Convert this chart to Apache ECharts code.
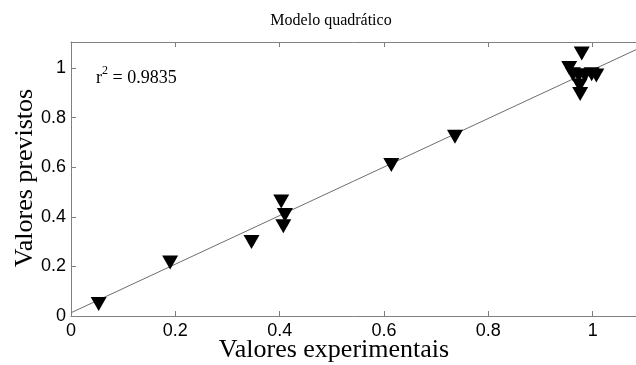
<!DOCTYPE html>
<html>
<head>
<meta charset="utf-8">
<script src="https://cdn.jsdelivr.net/npm/echarts@6/dist/echarts.min.js"></script>
<style>html,body{margin:0;padding:0;background:#fff}#c{width:636px;height:365px}</style>
</head>
<body>
<div id="c"></div>
<script>
// Experimental vs predicted values
var expX = [0.053, 0.19, 0.346, 0.403, 0.41, 0.407, 0.614, 0.736, 0.979, 0.955, 0.962, 0.973, 0.985, 0.998, 1.007, 0.975, 0.976];
var predY = [0.048, 0.216, 0.298, 0.462, 0.407, 0.362, 0.609, 0.723, 1.059, 1.0, 0.975, 0.97, 0.97, 0.975, 0.97, 0.93, 0.895];
// Fitted reference line endpoints
var fitX = [0, 1.083];
var fitY = [0.013, 1.074];
var xTicks = [0, 0.2, 0.4, 0.6, 0.8, 1];
var yTicks = [0, 0.2, 0.4, 0.6, 0.8, 1];
var titleText = 'Modelo quadrático';
var r2Value = '0.9835';
var xName = 'Valores experimentais';
var yName = 'Valores previstos';

var scatterData = expX.map(function (x, i) { return [x, predY[i]]; });
var lineData = fitX.map(function (x, i) { return [x, fitY[i]]; });

function tickFmt(list) {
  return function (v) {
    for (var i = 0; i < list.length; i++) if (Math.abs(list[i] - v) < 1e-6) return String(list[i]);
    return '';
  };
}

var axisColor = '#808080';
var chart = echarts.init(document.getElementById('c'), null, {renderer: 'canvas'});
chart.setOption({
  animation: false,
  backgroundColor: '#fff',
  grid: {left: 71, right: 0, top: 42, bottom: 49, containLabel: false},
  xAxis: [{
    type: 'value', min: 0, max: 1.083, interval: 0.2, position: 'bottom',
    axisLine: {show: true, lineStyle: {color: axisColor, width: 1}},
    axisTick: {show: true, inside: true, length: 5, lineStyle: {color: axisColor}},
    axisLabel: {color: '#000', fontFamily: 'Liberation Sans', fontSize: 18, margin: 6, formatter: tickFmt(xTicks), showMaxLabel: false},
    splitLine: {show: false}
  }, {
    type: 'value', min: 0, max: 1.083, interval: 0.2, position: 'top',
    axisLine: {show: true, lineStyle: {color: axisColor, width: 1}},
    axisTick: {show: true, inside: true, length: 5, lineStyle: {color: axisColor}},
    axisLabel: {show: false},
    splitLine: {show: false}
  }],
  yAxis: [{
    type: 'value', min: 0, max: 1.105, interval: 0.2,
    axisLine: {show: true, lineStyle: {color: axisColor, width: 1}},
    axisTick: {show: true, inside: true, length: 5, lineStyle: {color: axisColor}},
    axisLabel: {color: '#000', fontFamily: 'Liberation Sans', fontSize: 18, margin: 5, formatter: tickFmt(yTicks), showMaxLabel: false},
    splitLine: {show: false}
  }],
  series: [{
    type: 'line', data: lineData, xAxisIndex: 0, yAxisIndex: 0,
    symbol: 'none', lineStyle: {color: '#6e6e6e', width: 1}, z: 2, silent: true
  }, {
    type: 'scatter', data: scatterData, xAxisIndex: 0, yAxisIndex: 0,
    symbol: 'triangle', symbolRotate: 180, symbolSize: [16, 14],
    itemStyle: {color: '#000', opacity: 1}, z: 3
  }],
  graphic: [{
    type: 'text', x: 331, y: 21,
    style: {text: titleText, fontFamily: 'Liberation Serif', fontSize: 16, fill: '#000', textAlign: 'center', textVerticalAlign: 'middle'}
  }, {
    type: 'text', x: 96, y: 76,
    style: {
      text: '{a|r}{s|2}{a| = ' + r2Value + '}',
      rich: {
        a: {fontFamily: 'Liberation Serif', fontSize: 18, fill: '#000', verticalAlign: 'bottom', lineHeight: 22},
        s: {fontFamily: 'Liberation Serif', fontSize: 12, fill: '#000', verticalAlign: 'top', lineHeight: 22, padding: [0,0,9,0]}
      },
      textVerticalAlign: 'middle'
    }
  }, {
    type: 'text', x: 334, y: 350,
    style: {text: xName, fontFamily: 'Liberation Serif', fontSize: 26, fill: '#000', textAlign: 'center', textVerticalAlign: 'middle'}
  }, {
    type: 'text', x: 25, y: 178, rotation: Math.PI / 2,
    style: {text: yName, fontFamily: 'Liberation Serif', fontSize: 26, fill: '#000', textAlign: 'center', textVerticalAlign: 'middle'}
  }]
});
</script>
</body>
</html>
